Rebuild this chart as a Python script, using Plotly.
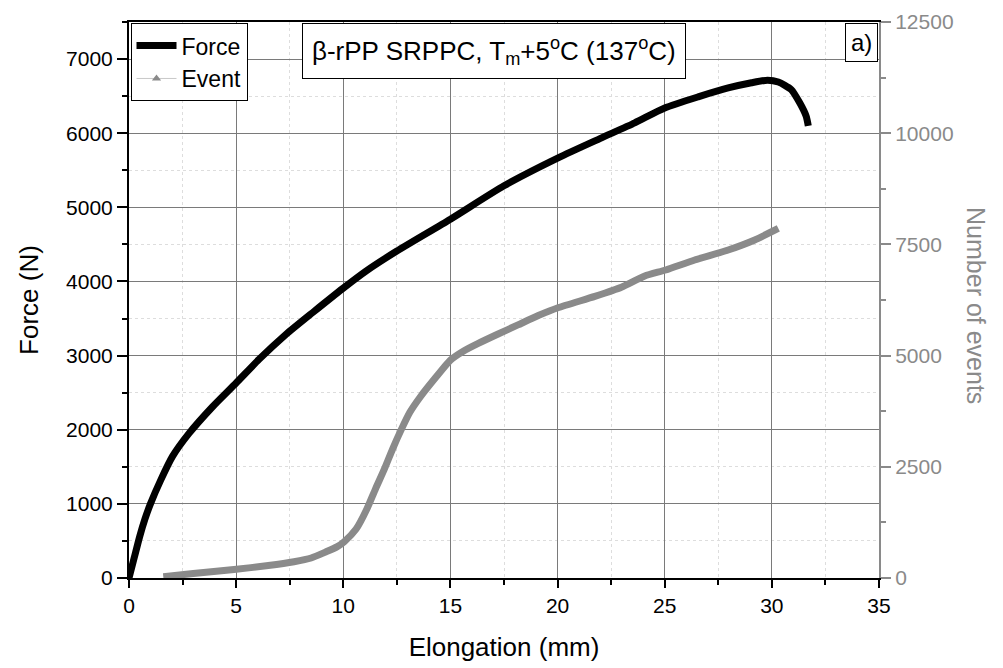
import plotly.graph_objects as go

# ---- data ----
force_elong = [0, 0.25, 0.5, 0.75, 1.0, 1.48, 2.03, 2.8, 3.9, 5.0, 6.07, 7.3, 8.57, 10.0,
               11.06, 12.5, 15.0, 17.5, 20.05, 22.0, 23.6, 25.0, 26.56, 27.96, 29.05,
               29.8, 30.3, 30.9, 31.3, 31.6, 31.7]
force_N = [0, 280, 560, 800, 1000, 1320, 1640, 1950, 2310, 2630, 2950, 3280, 3580, 3910,
           4140, 4410, 4840, 5290, 5670, 5930, 6140, 6340, 6490, 6610, 6680,
           6715, 6690, 6590, 6410, 6230, 6100]

event_elong = [1.6, 3.0, 4.9, 6.5, 7.7, 8.5, 9.2, 9.7, 10.05, 10.6, 11.1, 11.5, 11.9, 12.3,
               12.7, 13.1, 13.6, 14.3, 15.0, 15.6, 16.3, 17.2, 18.15, 19.1, 20.05, 21.74,
               22.98, 24.07, 25.05, 26.4, 27.96, 29.2, 30.3]
events = [30, 100, 190, 280, 366, 450, 590, 700, 820, 1100, 1550, 2000, 2430, 2900,
          3330, 3720, 4075, 4500, 4900, 5100, 5275, 5480, 5690, 5900, 6080, 6330,
          6535, 6790, 6925, 7150, 7374, 7600, 7860]

x_ticks = [0, 5, 10, 15, 20, 25, 30, 35]
y_ticks = [0, 1000, 2000, 3000, 4000, 5000, 6000, 7000]
y2_ticks = [0, 2500, 5000, 7500, 10000, 12500]

FONT = "Liberation Sans, Arial, sans-serif"
GRAY = "#8a8a8a"

fig = go.Figure()

fig.add_trace(go.Scatter(
    x=event_elong, y=events, yaxis="y2", mode="lines", name="Event",
    line=dict(color=GRAY, width=7, shape="spline", smoothing=0.6), showlegend=False))

fig.add_trace(go.Scatter(
    x=force_elong, y=force_N, mode="lines", name="Force",
    line=dict(color="black", width=7, shape="spline", smoothing=0.6), showlegend=True))

# legend-only entry for Event
fig.add_trace(go.Scatter(
    x=[None], y=[None], mode="lines+markers", name="Event",
    line=dict(color="#c8c8c8", width=1),
    marker=dict(symbol="triangle-up", size=8, color=GRAY), showlegend=True))

fig.update_layout(
    width=1003, height=668,
    margin=dict(l=129, r=124, t=22, b=90),
    paper_bgcolor="white", plot_bgcolor="white",
    font=dict(family=FONT, size=20, color="black"),
    showlegend=True,
    legend=dict(x=0.002, y=0.998, xanchor="left", yanchor="top",
                bordercolor="black", borderwidth=1, bgcolor="white",
                font=dict(size=23, family=FONT), tracegroupgap=0, itemwidth=40,
                itemsizing="trace"),
    xaxis=dict(
        range=[0, 35], tickvals=x_ticks, ticktext=[str(v) for v in x_ticks],
        automargin=False,
        showline=True, linecolor="black", linewidth=2, mirror=True,
        ticks="outside", ticklen=8, tickwidth=1.5, tickcolor="black",
        showgrid=True, gridcolor="#7a7a7a", gridwidth=1,
        minor=dict(dtick=2.5, ticks="outside", ticklen=5, tickcolor="black",
                   showgrid=True, gridcolor="#dddddd", griddash="dot", gridwidth=1),
        zeroline=False,
        title=dict(text="Elongation (mm)", font=dict(size=26, family=FONT), standoff=22),
        tickfont=dict(size=21, family=FONT),
    ),
    yaxis=dict(
        range=[0, 7500], tickvals=y_ticks, ticktext=[str(v) for v in y_ticks],
        automargin=False,
        showline=True, linecolor="black", linewidth=2,
        ticks="outside", ticklen=10, tickwidth=1.5, tickcolor="black",
        showgrid=True, gridcolor="#7a7a7a", gridwidth=1,
        minor=dict(dtick=500, ticks="outside", ticklen=5, tickcolor="black",
                   showgrid=True, gridcolor="#dddddd", griddash="dot", gridwidth=1),
        zeroline=False,
        title=dict(text="Force (N)", font=dict(size=26, family=FONT), standoff=20),
        tickfont=dict(size=21, family=FONT),
    ),
    yaxis2=dict(
        range=[0, 12500], overlaying="y", side="right",
        tickvals=y2_ticks, ticktext=[str(v) for v in y2_ticks],
        automargin=False,
        showline=True, linecolor=GRAY, linewidth=2,
        ticks="outside", ticklen=10, tickwidth=1.5, tickcolor=GRAY,
        minor=dict(dtick=1250, ticks="outside", ticklen=5, tickcolor=GRAY, showgrid=False),
        showgrid=False, zeroline=False,
        tickfont=dict(size=21, family=FONT, color=GRAY),
    ),
    annotations=[
        dict(text="β-rPP SRPPC, T<sub>m</sub>+5<sup>o</sup>C (137<sup>o</sup>C)",
             xref="paper", yref="paper", x=0.487, y=0.948, xanchor="center", yanchor="middle",
             showarrow=False, font=dict(size=26, family=FONT, color="black"),
             bordercolor="black", borderwidth=1, borderpad=9, bgcolor="white"),
        dict(text="a)", xref="paper", yref="paper", x=0.998, y=0.998,
             xanchor="right", yanchor="top", showarrow=False,
             font=dict(size=24, family=FONT, color="black"),
             bordercolor="black", borderwidth=1, borderpad=5, bgcolor="white"),
        dict(text="Number of events", xref="paper", yref="paper", x=1.13, y=0.49,
             xanchor="center", yanchor="middle", textangle=90, showarrow=False,
             font=dict(size=25, family=FONT, color=GRAY)),
    ],
)

fig.write_html("out.html", config={"displayModeBar": False},
               post_script="document.body.style.margin='0';document.body.style.padding='0';")
